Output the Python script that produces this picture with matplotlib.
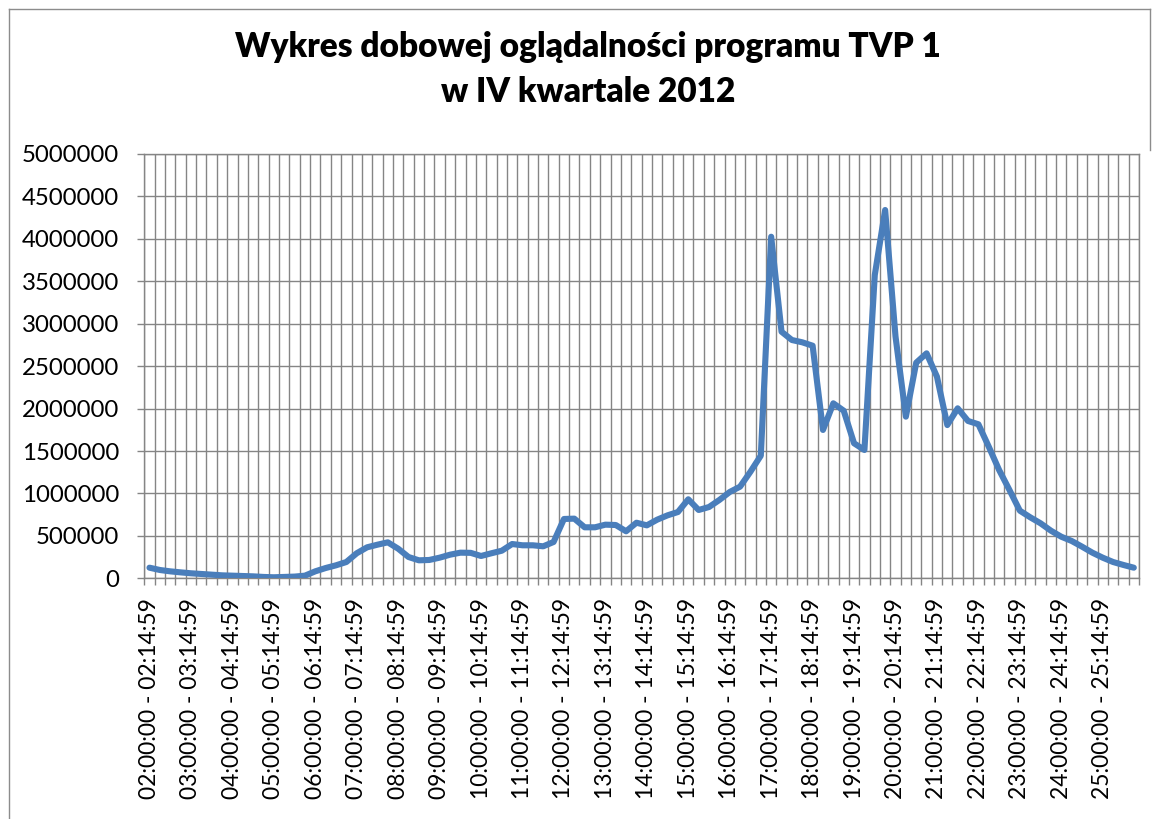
import matplotlib
matplotlib.use("Agg")
import matplotlib.pyplot as plt
import numpy as np
from matplotlib.lines import Line2D
from matplotlib.ticker import FixedLocator, StrMethodFormatter

# 15-minute slots from 02:00 to 25:59 (broadcast day)
start_hour = 2
slot_minutes = [0, 15, 30, 45]
categories = [
    f"{h:02d}:{m:02d}:00 - {h:02d}:{m + 14:02d}:59"
    for h in range(start_hour, start_hour + 24)
    for m in slot_minutes
]

# average audience per slot
viewers = [
    125000, 98000, 82000, 70000, 59000, 51000, 43000, 35000,
    31000, 27000, 23000, 16000, 12000, 16000, 20000, 31000,
    82000, 121000, 153000, 192000, 295000, 365000, 396000, 424000,
    349000, 251000, 212000, 216000, 243000, 278000, 302000, 300000,
    263000, 295000, 325000, 404000, 389000, 389000, 377000, 428000,
    699000, 703000, 601000, 601000, 632000, 628000, 554000, 655000,
    624000, 691000, 742000, 781000, 931000, 805000, 840000, 923000,
    1017000, 1080000, 1256000, 1445000, 4025000, 2906000, 2808000, 2781000,
    2741000, 1748000, 2062000, 1975000, 1591000, 1512000, 3574000, 4340000,
    2850000, 1905000, 2541000, 2651000, 2376000, 1806000, 2003000, 1854000,
    1815000, 1551000, 1276000, 1040000, 797000, 719000, 648000, 561000,
    490000, 440000, 373000, 302000, 243000, 192000, 157000, 125000,
]

y_ticks = np.arange(0, 5000001, 500000)
label_every = 4

title_lines = ["Wykres dobowej oglądalności programu TVP 1", "w IV kwartale 2012"]

W, H = 1157, 819
GRID = "#858585"
LINE = "#4A7EBB"

plt.rcParams["font.family"] = ["Lato", "DejaVu Sans"]

fig = plt.figure(figsize=(W / 100, H / 100), dpi=100)
fig.patch.set_facecolor("white")

left, right, top, bottom = 144.3, 1139.0, 154.0, 578.3
ax = fig.add_axes([left / W, 1 - bottom / H, (right - left) / W, (bottom - top) / H])

x = np.arange(len(viewers))
ax.plot(x, viewers, color=LINE, lw=4.4, solid_joinstyle="round",
        solid_capstyle="round", zorder=3)

ax.set_xlim(-0.5, len(viewers) - 0.5)
ax.set_ylim(0, 5000000)

# category boundaries carry the grid and the tick marks
ax.xaxis.set_minor_locator(FixedLocator(np.arange(-0.5, len(viewers), 1.0)))
ax.set_xticks(x[::label_every])
ax.set_xticklabels(categories[::label_every], rotation=90)
ax.tick_params(axis="x", which="major", length=0, pad=14, labelsize=16.5)
ax.tick_params(axis="x", which="minor", length=5, width=1.0, color=GRID, direction="out")
ax.grid(True, axis="x", which="minor", color=GRID, lw=1.0)

ax.set_yticks(y_ticks)
ax.yaxis.set_major_formatter(StrMethodFormatter("{x:.0f}"))
ax.tick_params(axis="y", length=5, width=1.0, color=GRID, direction="out",
               pad=13, labelsize=17.3)
ax.grid(True, axis="y", which="major", color=GRID, lw=1.0)
ax.set_axisbelow(True)

for spine in ax.spines.values():
    spine.set_color(GRID)
    spine.set_linewidth(1.0)

for text, base in zip(title_lines, [57.3, 101.7]):
    fig.text(588 / W, 1 - base / H, text, ha="center", va="baseline",
             fontsize=24, fontweight="heavy")

# chart frame (cropped at the bottom)
frame = dict(color="#8C8C8C", lw=1.0, transform=fig.transFigure)
fig.add_artist(Line2D([8.5 / W, 8.5 / W], [0, 1 - 9 / H], **frame))
fig.add_artist(Line2D([8.5 / W, 1150 / W], [1 - 9 / H, 1 - 9 / H], **frame))
fig.add_artist(Line2D([1150 / W, 1150 / W], [1 - 9 / H, 1 - 150 / H], **frame))

fig.savefig("out.png", dpi=100)
